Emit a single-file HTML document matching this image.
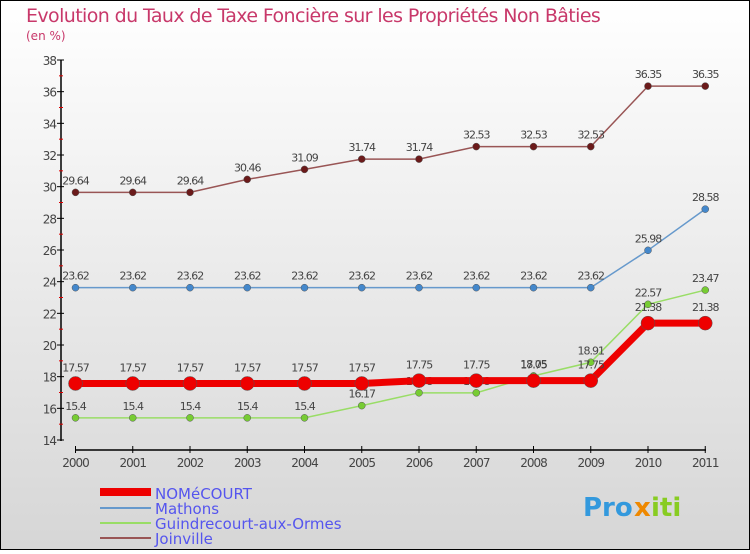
<!DOCTYPE html>
<html><head><meta charset="utf-8"><style>
body{margin:0}
#c{width:750px;height:550px;position:relative;font-family:"DejaVu Sans","Liberation Sans",sans-serif}
</style></head><body>
<div id="c">
<svg id="s" width="750" height="550" xmlns="http://www.w3.org/2000/svg">
<defs><linearGradient id="bg" x1="0" y1="0" x2="0" y2="1"><stop offset="0" stop-color="#ffffff"/><stop offset="1" stop-color="#d6d6d6"/></linearGradient></defs>
<rect x="0.5" y="0.5" width="749" height="549" fill="url(#bg)" stroke="#000"/>
<text x="26" y="22" font-size="19" fill="#c8386a" style="letter-spacing:-0.6px">Evolution du Taux de Taxe Foncière sur les Propriétés Non Bâties</text>
<text x="26" y="40" font-size="12" fill="#c8386a">(en %)</text>
<g id="axes"></g><g id="series"></g>
<g>
<rect x="100" y="488" width="51" height="8" fill="#ee0000"/>
<text x="155" y="499" font-size="15" fill="#5555ee">NOMéCOURT</text>
<line x1="100" y1="508" x2="151" y2="508" stroke="#6699cc" stroke-width="2"/>
<text x="155" y="514" font-size="15" fill="#5555ee">Mathons</text>
<line x1="100" y1="523" x2="151" y2="523" stroke="#99dd66" stroke-width="2"/>
<text x="155" y="529" font-size="15" fill="#5555ee">Guindrecourt-aux-Ormes</text>
<line x1="100" y1="538" x2="151" y2="538" stroke="#995555" stroke-width="2"/>
<text x="155" y="544" font-size="15" fill="#5555ee">Joinville</text>
</g>
<g font-size="26" font-weight="bold">
<text x="583" y="516" fill="#3399dd">Pro</text><text x="634" y="516" fill="#ee8800">x</text><text x="651" y="516" fill="#88cc22">iti</text>
</g>
</svg></div>
<script>
const years=["2000","2001","2002","2003","2004","2005","2006","2007","2008","2009","2010","2011"];
const yTicks=[14,16,18,20,22,24,26,28,30,32,34,36,38];
const nomecourt=[17.57,17.57,17.57,17.57,17.57,17.57,17.75,17.75,17.75,17.75,21.38,21.38];
const mathons=[23.62,23.62,23.62,23.62,23.62,23.62,23.62,23.62,23.62,23.62,25.98,28.58];
const guindrecourt=[15.4,15.4,15.4,15.4,15.4,16.17,16.98,16.98,18.05,18.91,22.57,23.47];
const joinville=[29.64,29.64,29.64,30.46,31.09,31.74,31.74,32.53,32.53,32.53,36.35,36.35];
const NS="http://www.w3.org/2000/svg";
const x=i=>75.5+i*57.25;
const y=v=>60+(38-v)*(380/24);
function mk(t,a,p){const e=document.createElementNS(NS,t);for(const k in a)e.setAttribute(k,a[k]);p.appendChild(e);return e;}
const ax=document.getElementById('axes');
let l=mk('line',{x1:61,y1:60,x2:61,y2:441,stroke:'#000','stroke-width':1.5},ax);

yTicks.forEach((v,i)=>{
 mk('line',{x1:57,y1:y(v),x2:64,y2:y(v),stroke:'#000'},ax);
 if(i<yTicks.length-1)mk('line',{x1:59,y1:y(v+1),x2:63,y2:y(v+1),stroke:'#d00'},ax);
 const t=mk('text',{x:56,y:y(v)+5,'font-size':12,fill:'#444','text-anchor':'end','letter-spacing':'-1'},ax);
 t.textContent=v;
});
l=mk('line',{x1:75,y1:450,x2:706,y2:450,stroke:'#000','stroke-width':1.5},ax);

years.forEach((yr,i)=>{
 mk('line',{x1:x(i),y1:446,x2:x(i),y2:453,stroke:'#000'},ax);
 const t=mk('text',{x:x(i),y:467,'font-size':12,fill:'#444','text-anchor':'middle','letter-spacing':'-1'},ax);
 t.textContent=yr;
});
const sg=document.getElementById('series');
function series(name,data,color,w,r,dot){
 const g=mk('g',{},sg);
 const p=mk('polyline',{points:data.map((v,i)=>x(i)+','+y(v)).join(' '),fill:'none',stroke:color,'stroke-width':w},g);
 
 data.forEach((v,i)=>{
  const c=mk('circle',{cx:x(i),cy:y(v),r:r,fill:dot,stroke:'#555','stroke-width':0.5},g);
  
  const t=mk('text',{x:x(i),y:y(v)-8-(r>5?4:0),'font-size':11,fill:'#444','text-anchor':'middle','letter-spacing':'-1'},g);
  t.textContent=v;
 });
}
series('joinville',joinville,'#995555',1.5,3.5,'#6b1a1a');
series('mathons',mathons,'#6699cc',1.5,3.5,'#4488cc');
series('guindrecourt',guindrecourt,'#99dd66',1.5,3.5,'#77cc33');
series('nomecourt',nomecourt,'#ee0000',7,7,'#ee0000');
</script>
</body></html>
